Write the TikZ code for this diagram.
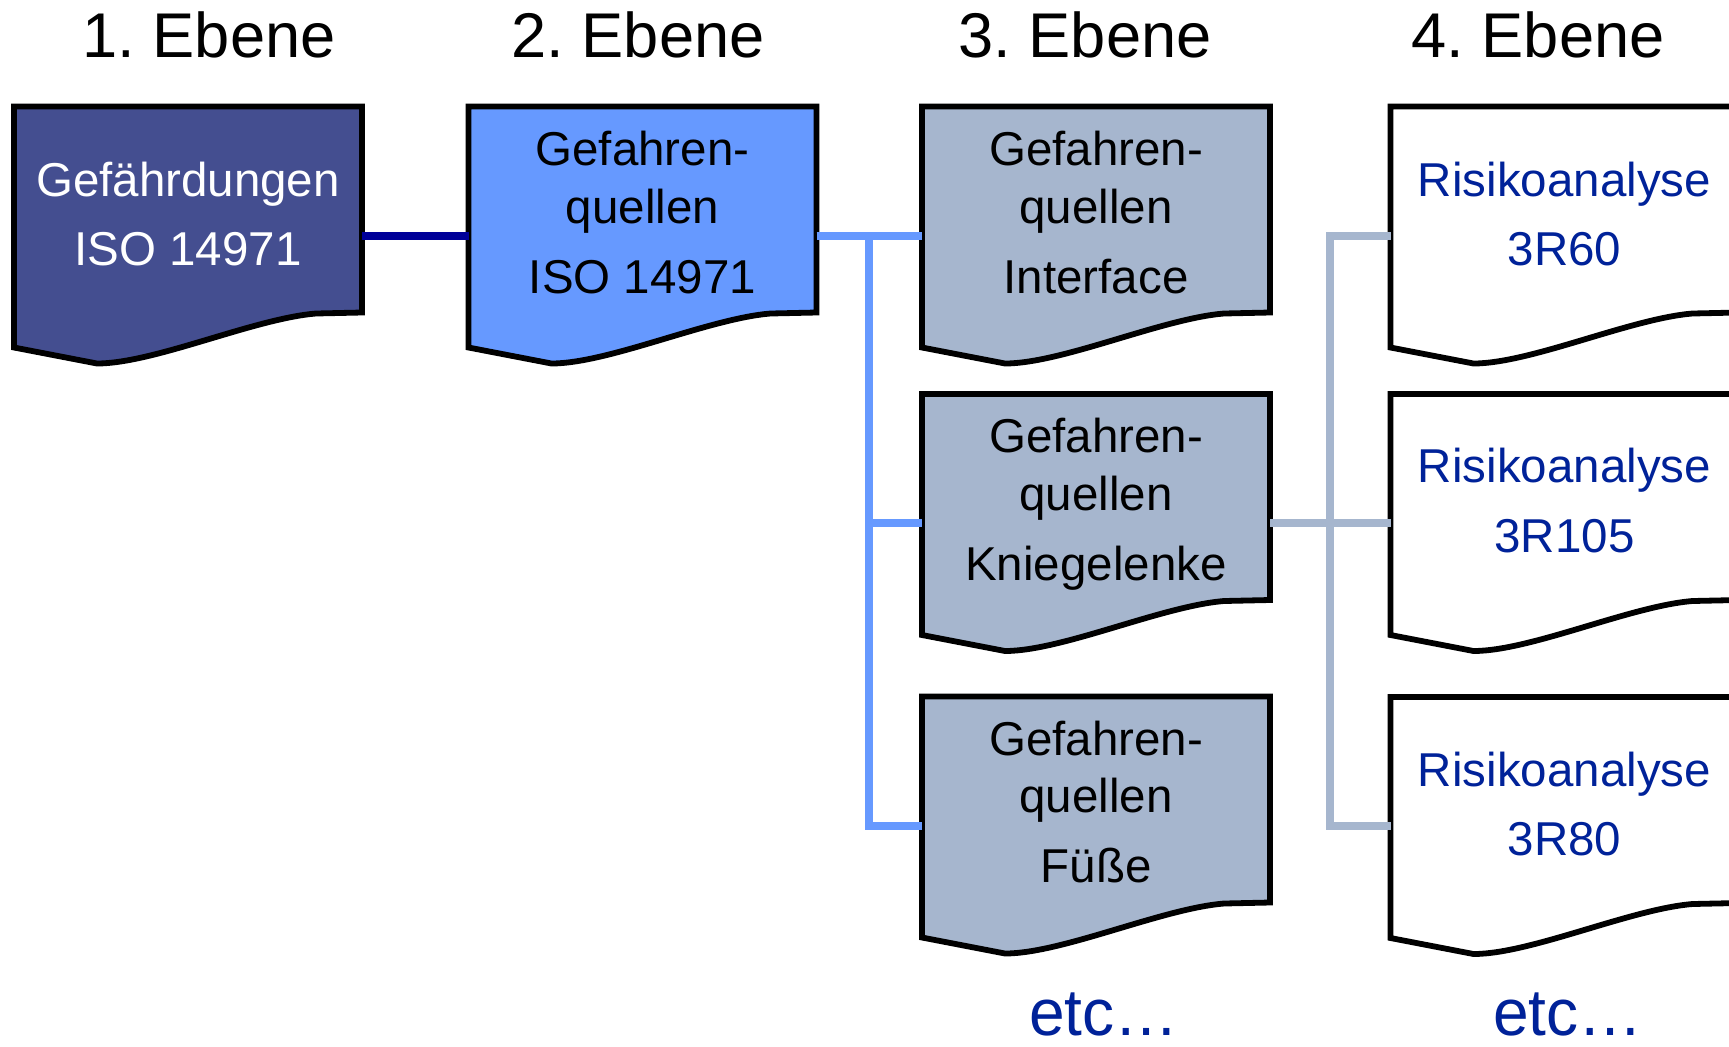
\documentclass[tikz,border=0pt]{standalone}
\usepackage{fontspec}
\setmainfont{Liberation Sans}
\frenchspacing
\definecolor{navy}{RGB}{0,0,153}
\definecolor{cone}{RGB}{68,78,144}
\definecolor{ctwo}{RGB}{102,153,255}
\definecolor{cthree}{RGB}{166,182,206}
\definecolor{tblue}{RGB}{0,34,153}
\tikzset{
  docbox/.style={draw=black, line width=2.9pt, line join=miter},
  pics/docshape/.style={code={
    \path[docbox, fill=#1] (0,0) -- (348,0) -- (348,206) -- (302,207)
      .. controls (240,212) and (140,257) .. (83,257) -- (0,241) -- cycle;
    \coordinate (-w) at (0,129);
    \coordinate (-e) at (348,129);
  }},
  boxtext/.style={anchor=base, inner sep=0pt, font=\fontsize{23.75}{28.9}\selectfont},
  headtext/.style={anchor=base, inner sep=0pt, font=\fontsize{31.6}{38}\selectfont},
  etctext/.style={anchor=base, inner sep=0pt, text=tblue, font=\fontsize{33}{40}\selectfont},
  navyline/.style={draw=navy, line width=4pt},
  lbline/.style={draw=ctwo, line width=4pt},
  grline/.style={draw=cthree, line width=4pt},
}
\begin{document}
\begin{tikzpicture}[x=0.5pt, y=-0.5pt]
\useasboundingbox (0,0) rectangle (1729,1046);
\clip (0,0) rectangle (1729,1046);
\fill[white] (0,0) rectangle (1729,1046);

% headers
\node[headtext] (h1) at (209,57) {1. Ebene};
\node[headtext] (h2) at (638,57) {2. Ebene};
\node[headtext] (h3) at (1085,57) {3. Ebene};
\node[headtext] (h4) at (1538,57) {4. Ebene};

% junction coordinates
\coordinate (j1) at (868.5,235.5);
\coordinate (j2) at (1330,235.5);

% boxes (shapes)
\pic (b1) at (14,106.5) {docshape=cone};
\pic (b2) at (468.5,106.5) {docshape=ctwo};
\pic (b3a) at (922,106.5) {docshape=cthree};
\pic (b3b) at (922,394) {docshape=cthree};
\pic (b3c) at (922,696.5) {docshape=cthree};
\pic (b4a) at (1390.5,106.5) {docshape=white};
\pic (b4b) at (1390.5,394) {docshape=white};
\pic (b4c) at (1390.5,697) {docshape=white};

% connectors
\draw[navyline] (b1-e) -- (b2-w);
\draw[lbline] (b2-e) -- (b3a-w);
\draw[lbline] (j1) |- (b3c-w);
\draw[lbline] (j1 |- b3b-w) -- (b3b-w);
\draw[grline] (b4a-w) -- (j2) |- (b4c-w);
\draw[grline] (b3b-e) -- (b4b-w);

% box texts
\node[boxtext, text=white] (t1) at (188,196)
  {\begin{tabular}[t]{@{}c@{}}Gefährdungen\\[6pt]ISO 14971\end{tabular}};
\node[boxtext] (t2) at (642.5,165.7)
  {\begin{tabular}[t]{@{}c@{}}Gefahren-\\quellen\\[6pt]ISO 14971\end{tabular}};
\node[boxtext] (t3a) at (1096,165.5)
  {\begin{tabular}[t]{@{}c@{}}Gefahren-\\quellen\\[6pt]Interface\end{tabular}};
\node[boxtext] (t3b) at (1096,452.7)
  {\begin{tabular}[t]{@{}c@{}}Gefahren-\\quellen\\[6pt]Kniegelenke\end{tabular}};
\node[boxtext] (t3c) at (1096,755)
  {\begin{tabular}[t]{@{}c@{}}Gefahren-\\quellen\\[6pt]Füße\end{tabular}};
\node[boxtext, text=tblue] (t4a) at (1564.5,196)
  {\begin{tabular}[t]{@{}c@{}}Risikoanalyse\\[6pt]3R60\end{tabular}};
\node[boxtext, text=tblue] (t4b) at (1564.5,482.7)
  {\begin{tabular}[t]{@{}c@{}}Risikoanalyse\\[6pt]3R105\end{tabular}};
\node[boxtext, text=tblue] (t4c) at (1564.5,786)
  {\begin{tabular}[t]{@{}c@{}}Risikoanalyse\\[6pt]3R80\end{tabular}};

% etc
\node[etctext] (e3) at (1104,1035) {\scalebox{0.97}[1]{etc…}};
\node[etctext] (e4) at (1568,1035) {\scalebox{0.97}[1]{etc…}};
\end{tikzpicture}
\end{document}
